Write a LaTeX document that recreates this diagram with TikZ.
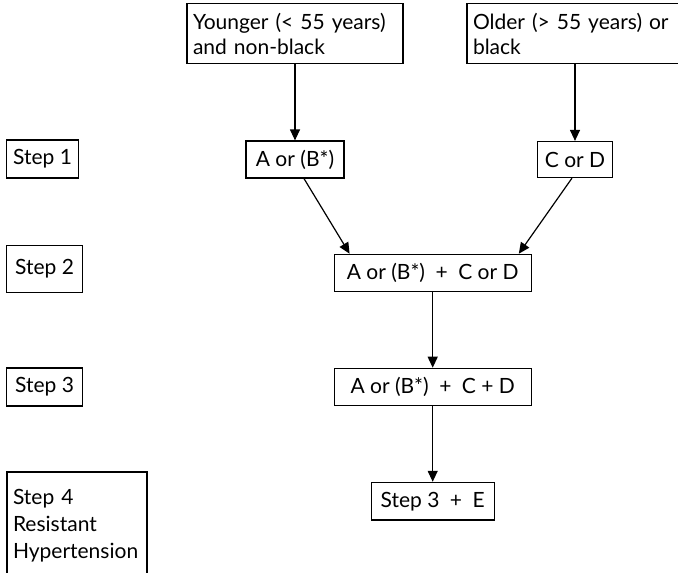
\documentclass[tikz,border=0pt]{standalone}
\usepackage{fontspec}
\setmainfont{Lato}
\usetikzlibrary{arrows.meta,calc}
\tikzset{
  box/.style={draw=black, line width=1.2pt, inner xsep=6pt, inner ysep=0pt, font=\fontsize{21}{25}\selectfont},
  arr/.style={line width=1.2pt, -{Triangle[length=11pt,width=10pt]}},
}
\begin{document}
\begin{tikzpicture}[x=1pt,y=-1pt]
\useasboundingbox (0,0) rectangle (678,573);
\node[box, text width=204pt, minimum height=60pt, align=left] (young) at (295,33.5) {Younger (< 55 years)\\and non-black};
\node[box, text width=212pt, minimum height=60pt, align=left] (old) at (579,33.5) {Older (> 55 years) or\\black};
\node[box, minimum width=72pt, minimum height=38pt] (s1) at (42.5,159) {Step 1};
\node[box, minimum width=76pt, minimum height=46.6pt] (s2) at (44.5,269) {Step 2};
\node[box, minimum width=76pt, minimum height=38pt] (s3) at (44.5,387) {Step 3};
\node[box, text width=128pt, minimum height=108pt, align=left, font=\fontsize{21}{27}\selectfont] (s4) at (77,526) {Step 4\\Resistant\\Hypertension};
\node[box, minimum width=98pt, minimum height=37pt] (ab) at (295,159.5) {A or (B*)};
\node[box, minimum width=75pt, minimum height=36pt] (cd) at (575,159.5) {C or D};
\node[box, minimum width=197pt, minimum height=37.4pt] (m2) at (432.7,273) {A or (B*)\enspace+\enspace C or D};
\node[box, minimum width=197pt, minimum height=37.4pt] (m3) at (432.7,387) {A or (B*)\enspace+\enspace C + D};
\node[box, minimum width=123pt, minimum height=37.7pt] (e) at (432.7,501.2) {Step 3\enspace+\enspace E};
\draw[arr] (young.south) -- (ab.north);
\draw[arr] (old.south -| cd.north) -- (cd.north);
\draw[arr] ($(ab.south)+(9,0)$) -- ($(m2.north west)+(16,0)$);
\draw[arr] ($(cd.south)+(-3,0)$) -- ($(m2.north east)+(-13,0)$);
\draw[arr] (m2.south) -- (m3.north);
\draw[arr] (m3.south) -- (e.north);
\end{tikzpicture}
\end{document}
